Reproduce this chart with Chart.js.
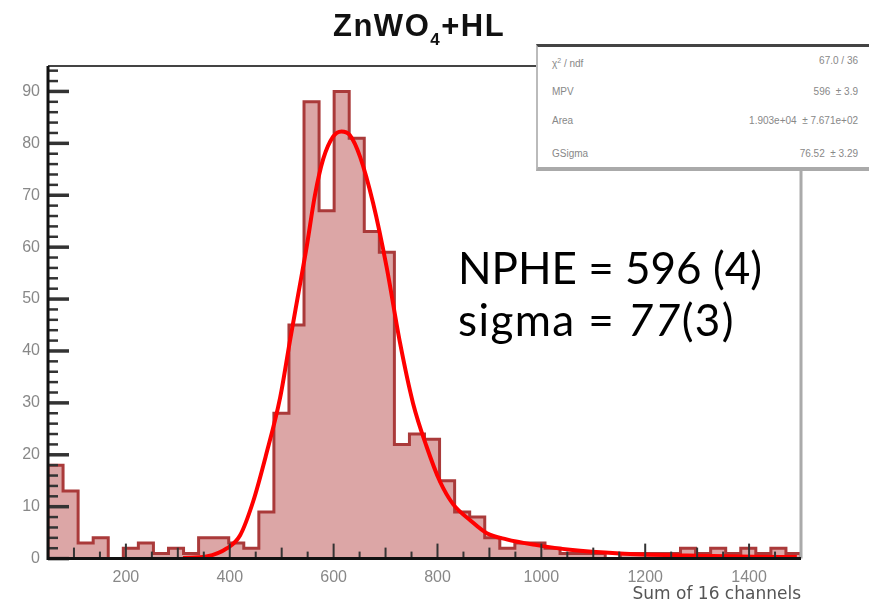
<!DOCTYPE html>
<html>
<head>
<meta charset="utf-8">
<script src="https://cdn.jsdelivr.net/npm/chart.js@4.4.1/dist/chart.umd.min.js"></script>
<style>
  body { margin: 0; background: #fff; width: 869px; height: 606px; overflow: hidden; position: relative;
         font-family: "Liberation Sans", Arial, sans-serif; }
  #c { position: absolute; left: 0; top: 0; }
  #title { position: absolute; left: 333px; top: 9px; font-weight: bold; font-size: 31px; color: #111;
           white-space: nowrap; line-height: 34px; letter-spacing: 1.5px; }
  #title sub { font-size: 17px; vertical-align: -9px; line-height: 0; }
  #stats { position: absolute; left: 536px; top: 44px; width: 360px; height: 120px; background: #fff;
           border-top: 3px solid #444; border-left: 2px solid #bbb; border-bottom: 4px solid #aaa;
           color: #888; font-size: 10px; }
  .row { position: absolute; left: 14px; width: 306px; height: 12px; line-height: 12px; }
  .row span { position: absolute; right: 0; top: 0; white-space: nowrap; }
  .note { position: absolute; left: 458px; font-family: Lato, "Open Sans", sans-serif; font-size: 44px;
          line-height: 44px; color: #000; white-space: nowrap; }
  .note i { font-style: italic; font-synthesis: style; }
</style>
</head>
<body>
<canvas id="c" width="869" height="606"></canvas>
<div id="title">ZnWO<sub>4</sub>+HL</div>
<div id="stats">
  <div class="row" style="top:8px">&chi;<sup style="font-size:7px">2</sup> / ndf<span>67.0 / 36</span></div>
  <div class="row" style="top:39px">MPV<span>596 &nbsp;&plusmn; 3.9</span></div>
  <div class="row" style="top:68px">Area<span>1.903e+04 &nbsp;&plusmn; 7.671e+02</span></div>
  <div class="row" style="top:101px">GSigma<span>76.52 &nbsp;&plusmn; 3.29</span></div>
</div>
<div class="note" style="top:245px">NPHE = 596 (4)</div>
<div class="note" style="top:297px; letter-spacing: 1.4px">sigma = <i>77</i>(3)</div>
<script>
// histogram: 50 bins from 50 to 1500
const histMin = 50;
const histMax = 1500;
const binCounts = [18, 13, 3, 4, 0, 2, 3, 1, 2, 1,
                   4, 4, 3, 2, 9, 28, 45, 88, 67, 90,
                   81, 63, 59, 22, 24, 23, 15, 9, 8, 4,
                   2, 3, 3, 2, 1, 1, 1, 0, 1, 1,
                   1, 1, 2, 1, 2, 1, 2, 1, 2, 1];

// fitted curve
const fitX = [310, 355, 395, 420, 445, 470, 497, 516, 532, 548, 564, 580, 599, 615, 631, 651,
              676, 702, 728, 753, 779, 805, 830, 863, 895, 933, 991, 1055, 1151, 1280, 1408, 1492];
const fitY = [0.1, 0.4, 2.0, 4.5, 11, 20, 31, 42, 51, 60, 70, 77, 81.3, 82.3, 81.6, 77.4,
              68.5, 56.2, 41.5, 29.9, 21.6, 14.8, 10.5, 7.4, 4.9, 3.7, 2.6, 1.7, 1.0, 0.6, 0.37, 0.3];

const xTicks = [200, 400, 600, 800, 1000, 1200, 1400];
const yTicks = [0, 10, 20, 30, 40, 50, 60, 70, 80, 90];

const binWidth = (histMax - histMin) / binCounts.length;
const histPts = [{ x: histMin, y: 0 }];
binCounts.forEach((c, i) => histPts.push({ x: histMin + (i + 1) * binWidth, y: c }));
histPts.push({ x: histMax, y: 0 });

const fitPts = fitX.map((x, i) => ({ x: x, y: fitY[i] }));

// ROOT style frame with inward ticks
const frame = {
  id: 'frame',
  afterDatasetsDraw(chart) {
    const { ctx, chartArea: a, scales: { x, y } } = chart;
    ctx.save();
    ctx.strokeStyle = '#444';
    ctx.lineWidth = 2;
    ctx.beginPath(); ctx.moveTo(a.left, a.top); ctx.lineTo(a.right, a.top); ctx.stroke();
    ctx.strokeStyle = '#aaa';
    ctx.lineWidth = 3;
    ctx.beginPath(); ctx.moveTo(a.right, a.top); ctx.lineTo(a.right, a.bottom); ctx.stroke();

    ctx.strokeStyle = '#333';
    for (let v = 0; v <= 94; v += 2) {
      const p = y.getPixelForValue(v);
      ctx.lineWidth = v % 10 === 0 ? 3.5 : 2.5;
      ctx.beginPath(); ctx.moveTo(a.left, p); ctx.lineTo(a.left + (v % 10 === 0 ? 21 : 10), p); ctx.stroke();
    }
    for (let v = 100; v < histMax; v += 50) {
      const p = x.getPixelForValue(v);
      const len = v % 200 === 0 ? 15 : (v % 100 === 0 ? 11 : 7);
      ctx.lineWidth = 2;
      ctx.beginPath(); ctx.moveTo(p, a.bottom); ctx.lineTo(p, a.bottom - len); ctx.stroke();
    }

    ctx.strokeStyle = '#111';
    ctx.lineWidth = 3;
    ctx.beginPath(); ctx.moveTo(a.left, a.top); ctx.lineTo(a.left, a.bottom); ctx.lineTo(a.right, a.bottom); ctx.stroke();
    ctx.restore();
  }
};

new Chart(document.getElementById('c'), {
  type: 'line',
  data: {
    datasets: [{
      label: 'fit',
      data: fitPts,
      borderColor: '#ff0000',
      borderWidth: 4,
      cubicInterpolationMode: 'monotone',
      pointRadius: 0,
      fill: false,
      order: 0
    }, {
      label: 'hist',
      data: histPts,
      stepped: 'after',
      borderColor: '#aa3a3a',
      borderWidth: 3,
      backgroundColor: '#dca6a6',
      fill: 'origin',
      pointRadius: 0,
      order: 1
    }]
  },
  options: {
    responsive: false,
    animation: false,
    devicePixelRatio: 1,
    layout: { padding: { top: 66, right: 68, left: 0, bottom: 0 } },
    plugins: { legend: { display: false }, tooltip: { enabled: false } },
    scales: {
      x: {
        type: 'linear',
        min: histMin,
        max: histMax,
        afterFit(s) { s.height = 47.4; },
        afterBuildTicks(s) { s.ticks = xTicks.map(v => ({ value: v })); },
        grid: { display: false, drawTicks: false },
        border: { display: false },
        ticks: {
          padding: 9,
          color: '#888',
          font: { family: 'Liberation Sans', size: 16 },
          maxRotation: 0,
          callback: v => String(v)
        },
        title: {
          display: true,
          text: 'Sum of 16 channels',
          align: 'end',
          color: '#555',
          font: { family: 'DejaVu Sans', size: 17 },
          padding: { top: 0, bottom: 1 }
        }
      },
      y: {
        type: 'linear',
        min: 0,
        max: 94.9,
        afterFit(s) { s.width = 48; },
        afterBuildTicks(s) { s.ticks = yTicks.map(v => ({ value: v })); },
        grid: { display: false, drawTicks: false },
        border: { display: false },
        ticks: {
          padding: 8,
          color: '#888',
          font: { family: 'Liberation Sans', size: 16 },
          callback: v => String(v)
        }
      }
    }
  },
  plugins: [frame]
});
</script>
</body>
</html>
